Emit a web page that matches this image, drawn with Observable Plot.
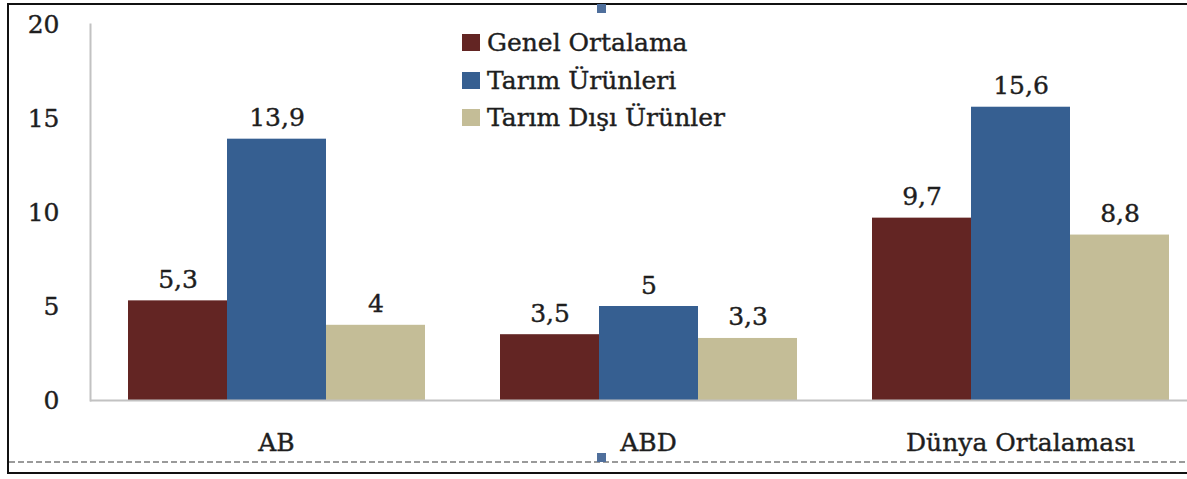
<!DOCTYPE html>
<html>
<head>
<meta charset="utf-8">
<script src="https://cdn.jsdelivr.net/npm/d3@7"></script>
<script src="https://cdn.jsdelivr.net/npm/@observablehq/plot@0.6"></script>
<style>
  html, body { margin: 0; padding: 0; background: #fff; overflow: hidden; }
  #wrap { position: relative; width: 1187px; height: 479px; overflow: hidden; background: #fff; }
  #chart { position: absolute; left: 0; top: 0; }
  .border { position: absolute; left: 7px; top: 3px; width: 1200px; height: 467px; border: 2px solid #111; box-sizing: content-box; pointer-events: none; }
  .dash { position: absolute; left: 9px; top: 461px; width: 1190px; height: 1.5px;
          background: repeating-linear-gradient(to right, #9a9a9a 0 6px, transparent 6px 9px); }
  .handle { position: absolute; width: 9px; height: 9px; background: #4f6f9c; }
  .legend { position: absolute; left: 462px; top: 24px; font-family: "DejaVu Serif", serif; font-size: 25px; color: #1e1e1e; -webkit-text-stroke: 0.4px #1e1e1e; }
  .legend .row { display: flex; align-items: center; height: 37.5px; }
  .legend .sw { width: 18px; height: 17px; margin-right: 7px; }
</style>
</head>
<body>
<div id="wrap">
  <div id="chart"></div>
  <div class="legend" id="legend"></div>
  <div class="dash"></div>
  <div class="border"></div>
  <div class="handle" style="left:597px; top:4px;"></div>
  <div class="handle" style="left:597px; top:453px;"></div>
</div>
<script>
const categories = ["AB", "ABD", "Dünya Ortalaması"];
const series = ["Genel Ortalama", "Tarım Ürünleri", "Tarım Dışı Ürünler"];
const genelOrtalama = [5.3, 3.5, 9.7];
const tarimUrunleri = [13.9, 5, 15.6];
const tarimDisiUrunler = [4, 3.3, 8.8];
const yTicks = [0, 5, 10, 15, 20];
const colors = ["#632523", "#365F91", "#C4BD97"];

const seriesValues = [genelOrtalama, tarimUrunleri, tarimDisiUrunler];
const data = [];
categories.forEach((c, i) => {
  series.forEach((s, j) => {
    data.push({category: c, series: s, value: seriesValues[j][i]});
  });
});
const fmt = v => String(v).replace(".", ",");
const font = "DejaVu Serif";
const ink = "#1e1e1e";

const chart = Plot.plot({
  width: 1187,
  height: 479,
  marginLeft: 89,
  marginRight: 0,
  marginTop: 24,
  marginBottom: 79,
  style: {fontFamily: font, fontSize: "25px", color: ink, background: "transparent"},
  fx: {domain: categories, range: [89, 1206], paddingInner: 0, paddingOuter: 0, label: null},
  x: {domain: series, paddingInner: 0, paddingOuter: 0.375, axis: null},
  y: {domain: [0, 20], label: null},
  color: {domain: series, range: colors},
  marks: [
    Plot.frame({anchor: "left", stroke: "#c2c2c2", strokeWidth: 2, facetAnchor: "left"}),
    Plot.barY(data, {fx: "category", x: "series", y: "value", fill: "series"}),
    Plot.ruleY([0], {stroke: "#c2c2c2", strokeWidth: 2}),
    Plot.text(data, {fx: "category", x: "series", y: "value", text: d => fmt(d.value),
      lineAnchor: "bottom", dy: -13, fontSize: 25, fill: ink, stroke: ink, strokeWidth: 0.4}),
    Plot.axisY({ticks: yTicks, tickSize: 0, tickPadding: 31, fontSize: 25, label: null, fill: ink,
      textStroke: ink, textStrokeWidth: 0.4}),
    Plot.axisFx({anchor: "bottom", tickSize: 0, tickPadding: 33, fontSize: 25, label: null, fill: ink,
      textStroke: ink, textStrokeWidth: 0.4})
  ]
});
document.getElementById("chart").appendChild(chart);

const legend = document.getElementById("legend");
series.forEach((s, j) => {
  const row = document.createElement("div");
  row.className = "row";
  const sw = document.createElement("div");
  sw.className = "sw";
  sw.style.background = colors[j];
  const t = document.createElement("span");
  t.textContent = s;
  row.appendChild(sw);
  row.appendChild(t);
  legend.appendChild(row);
});
</script>
</body>
</html>
